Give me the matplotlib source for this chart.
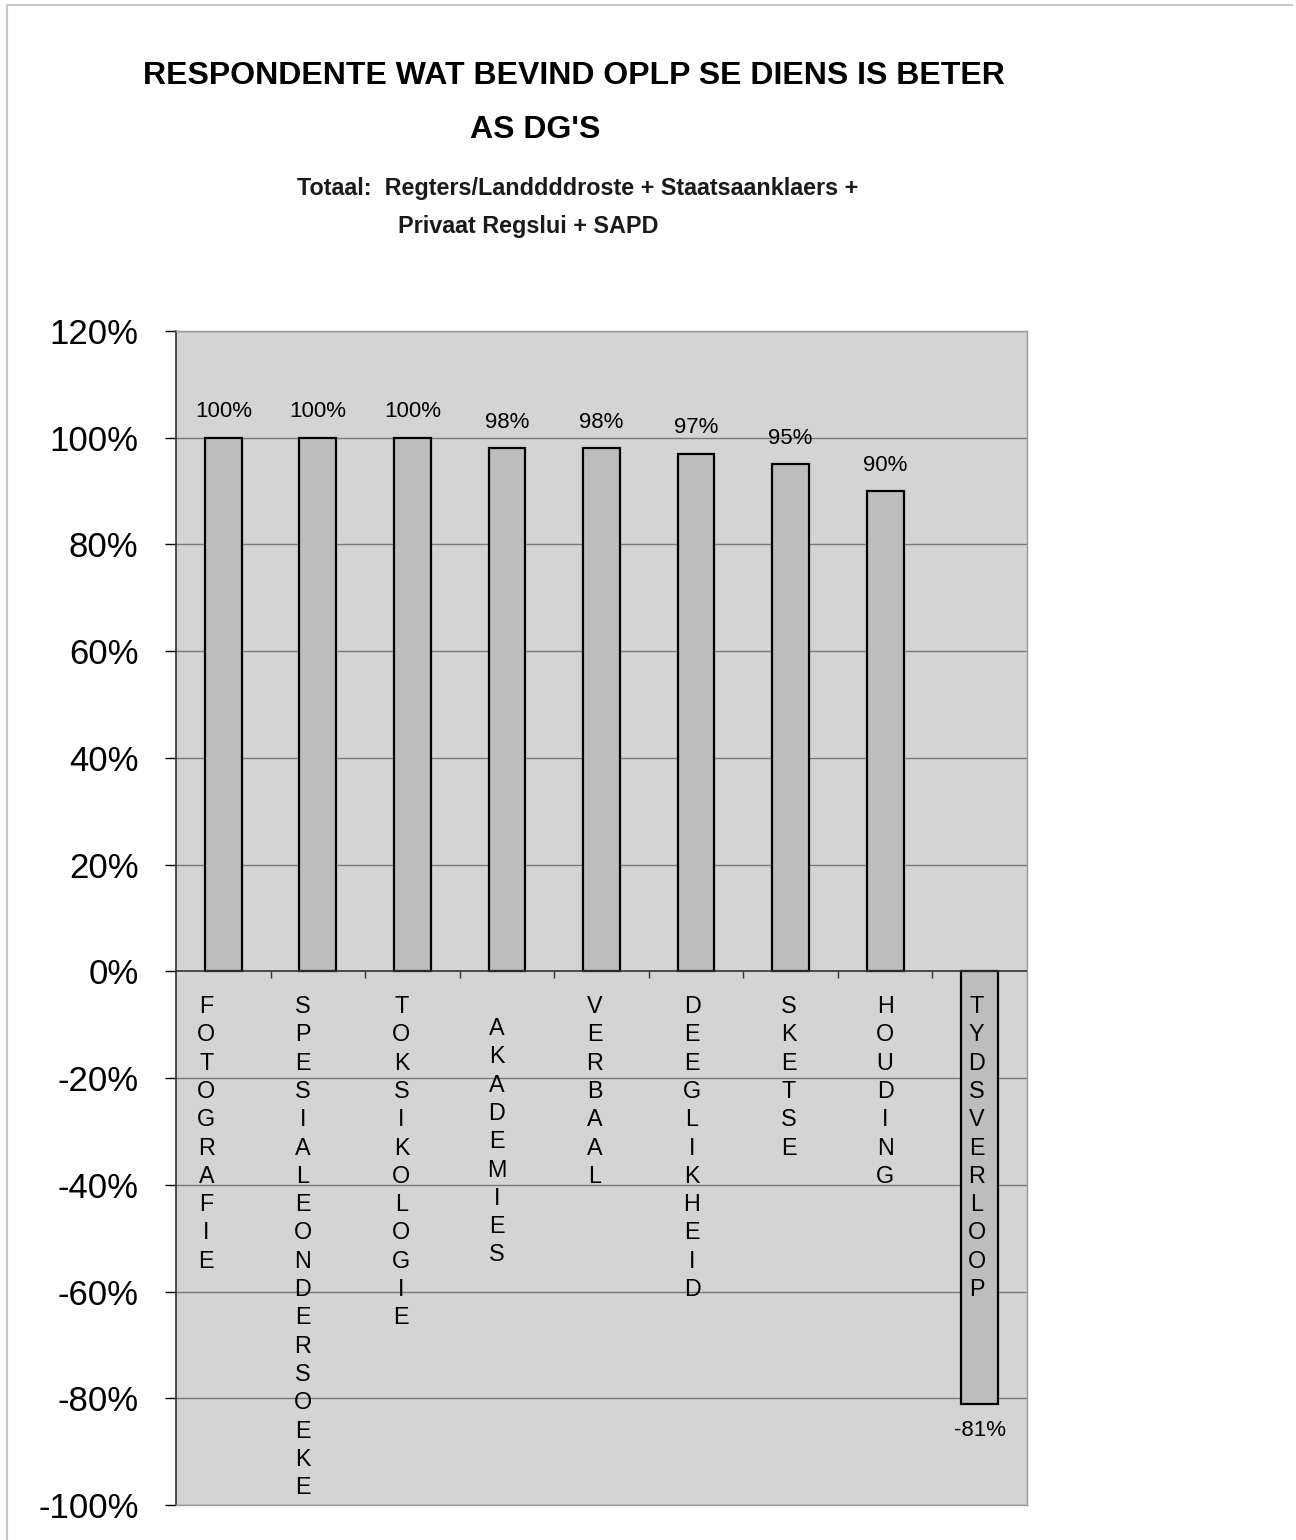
import matplotlib
matplotlib.use("Agg")
import matplotlib.pyplot as plt
from matplotlib.lines import Line2D
import matplotlib.transforms as mtransforms

categories = ["FOTOGRAFIE", "SPESIALEONDERSOEKE", "TOKSIKOLOGIE", "AKADEMIES",
              "VERBAAL", "DEEGLIKHEID", "SKETSE", "HOUDING", "TYDSVERLOOP"]
values = [1.00, 1.00, 1.00, 0.98, 0.98, 0.97, 0.95, 0.90, -0.81]
value_labels = ["100%", "100%", "100%", "98%", "98%", "97%", "95%", "90%", "-81%"]
yticks = [-1.0, -0.8, -0.6, -0.4, -0.2, 0.0, 0.2, 0.4, 0.6, 0.8, 1.0, 1.2]
ytick_labels = ["-100%", "-80%", "-60%", "-40%", "-20%", "0%", "20%", "40%",
                "60%", "80%", "100%", "120%"]

title1 = "RESPONDENTE WAT BEVIND OPLP SE DIENS IS BETER"
title2 = "AS DG'S"
sub1 = "Totaal:  Regters/Landdddroste + Staatsaanklaers +"
sub2 = "Privaat Regslui + SAPD"

# layout tweaks (pixels) for the stacked category letters
label_dx = [-17, -15, -11, -10, -7, -4, -2, 0, -3]
label_dy = [0, 0, 0, 22, 0, 0, 0, 0, 0]

plt.rcParams['font.family'] = ['Liberation Sans', 'DejaVu Sans']

W, H = 1296, 1540
fig = plt.figure(figsize=(W / 100, H / 100), dpi=100)
fig.patch.set_facecolor("white")

# thin page frame
fig.add_artist(Line2D([7 / W, 1292 / W], [1 - 5 / H, 1 - 5 / H], color="#c8c8c8", lw=1.5))
fig.add_artist(Line2D([7 / W, 7 / W], [1 - 5 / H, 0], color="#c8c8c8", lw=1.5))

left, right, top, bottom = 176, 1027, 331, 1505
ax = fig.add_axes([left / W, 1 - bottom / H, (right - left) / W, (bottom - top) / H])
ax.set_facecolor("#d4d4d4")

x = list(range(len(categories)))
ax.bar(x, values, width=0.39, color="#bdbdbd", edgecolor="black", linewidth=1.6, zorder=3)

ax.set_xlim(-0.5, len(categories) - 0.5)
ax.set_ylim(-1.0, 1.2)

ax.set_yticks(yticks)
ax.set_yticklabels(ytick_labels, fontsize=25)
ax.tick_params(axis='y', direction='out', length=8, width=1, pad=19, colors='black')
ax.set_xticks([])

for y in yticks:
    if y != 0:
        ax.axhline(y, color="#7a7a7a", lw=1, zorder=1)
ax.axhline(0, color="#333333", lw=1.2, zorder=4)

# tick marks along the zero line at category boundaries
tick_len = 7 * 2.2 / (bottom - top)
ax.vlines([b - 0.5 for b in range(1, len(categories))], -tick_len, 0,
          colors="#333333", lw=1, zorder=4)

for s in ["top", "right", "bottom"]:
    ax.spines[s].set_color("#9a9a9a")
    ax.spines[s].set_linewidth(1)
ax.spines["left"].set_color("#333333")
ax.spines["left"].set_linewidth(1.2)

# value labels
for xi, v, lab in zip(x, values, value_labels):
    off = 11 if v >= 0 else -12
    ax.annotate(lab, xy=(xi, v), xytext=(0, off), textcoords="offset points",
                ha="center", va="bottom" if v >= 0 else "top", fontsize=16, zorder=5)

# stacked category labels
for xi, cat, dx, dy in zip(x, categories, label_dx, label_dy):
    tr = ax.get_xaxis_transform() + mtransforms.ScaledTranslation(dx / 100, -dy / 100, fig.dpi_scale_trans)
    ax.text(xi, 1 - (995 - top) / (bottom - top), "\n".join(cat), transform=tr,
            ha="center", va="top", fontsize=16.8, linespacing=1.295, zorder=6)

# titles
fig.text(574 / W, 1 - 76 / H, title1, ha="center", va="center", fontsize=23, fontweight="bold")
fig.text(535 / W, 1 - 130 / H, title2, ha="center", va="center", fontsize=23, fontweight="bold")
fig.text(297 / W, 1 - 188 / H, sub1, ha="left", va="center", fontsize=16.8, fontweight="bold", color="#1a1a1a")
fig.text(398 / W, 1 - 226 / H, sub2, ha="left", va="center", fontsize=16.8, fontweight="bold", color="#1a1a1a")

fig.savefig("out.png", dpi=100, facecolor="white")
